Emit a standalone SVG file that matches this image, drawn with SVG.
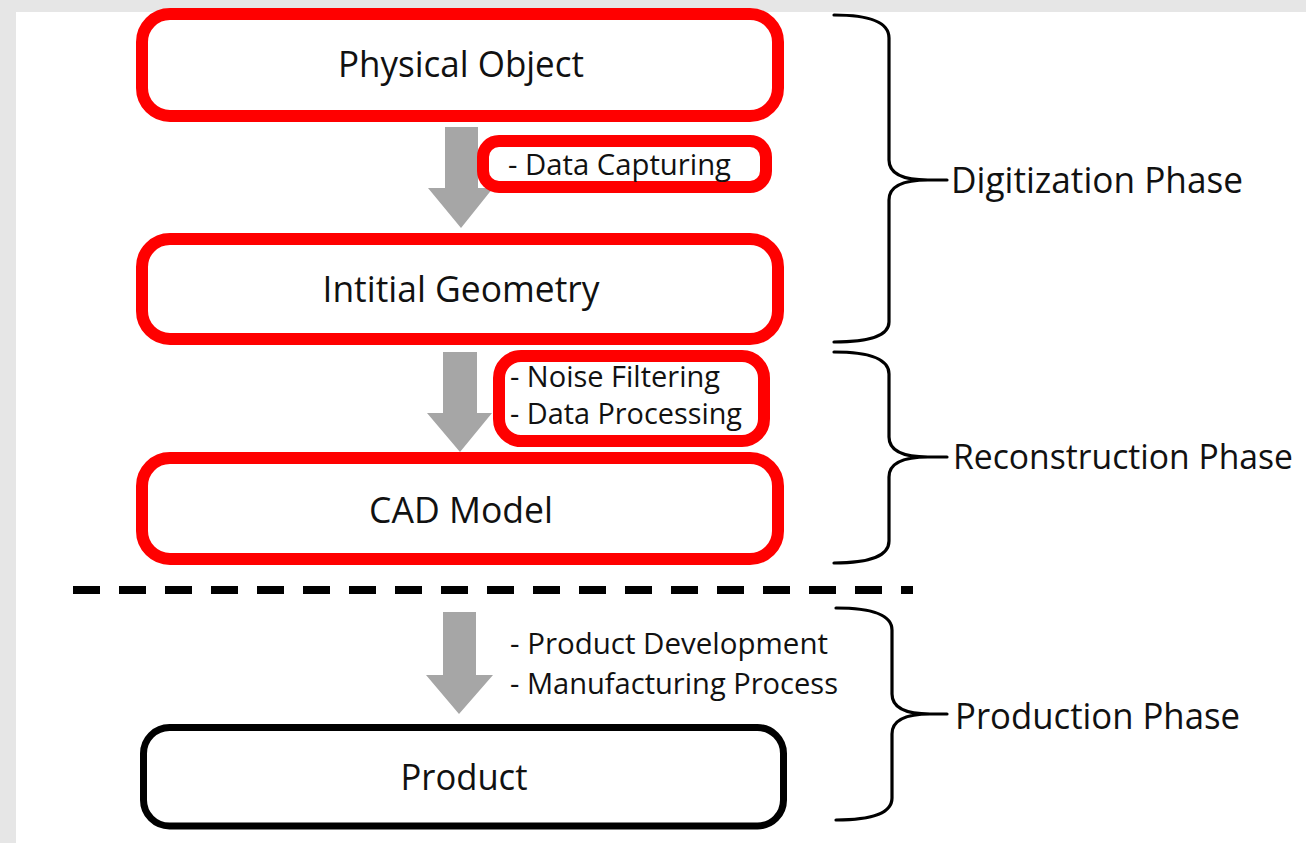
<svg xmlns="http://www.w3.org/2000/svg" width="1306" height="843" viewBox="0 0 1306 843">
<style>
  .bg { fill: #e6e6e6; }
  .red { fill: #ffffff; stroke: #ff0000; stroke-width: 12; }
  .blk { fill: #ffffff; stroke: #000000; stroke-width: 7; }
  .arrow { fill: #a6a6a6; stroke: none; }
  .brace { fill: none; stroke: #000000; stroke-width: 3.2; stroke-linecap: round; stroke-linejoin: round; }
  .dash { stroke: #000000; stroke-width: 8; stroke-dasharray: 27 19; fill: none; }
  text { font-family: "Open Sans", "Noto Sans", "Liberation Sans", sans-serif; fill: #111111; }
  .big { font-size: 36px; }
  .med { font-size: 37px; }
  .medn { font-size: 34px; }
  .small { font-size: 28.5px; }
  .c { text-anchor: middle; }
</style>
<rect class="bg" x="0" y="0" width="1306" height="843"/>
<rect x="16" y="12" width="1290" height="831" fill="#ffffff"/>

<g id="connectors">
  <polygon id="arrow1" class="arrow" points="445,127 478,127 478,188 493,188 461,228 428,188 445,188"/>
  <polygon id="arrow2" class="arrow" points="443,352 477,352 477,413 492,413 460,452 427,413 443,413"/>
  <polygon id="arrow3" class="arrow" points="443,612 476,612 476,675 493,675 459,714 426,675 443,675"/>
  <line id="divider" class="dash" x1="73" y1="590" x2="913" y2="590"/>
</g>

<g id="node-physical-object">
  <rect class="red" x="142" y="14" width="636" height="102" rx="28"/>
  <text class="big c" x="461" y="77" textLength="246" lengthAdjust="spacingAndGlyphs">Physical Object</text>
</g>
<g id="node-data-capturing">
  <rect class="red" x="483" y="141" width="283" height="46" rx="16"/>
  <text class="small" x="508" y="175" textLength="223" lengthAdjust="spacingAndGlyphs">- Data Capturing</text>
</g>
<g id="node-initial-geometry">
  <rect class="red" x="142" y="239" width="636" height="100" rx="28"/>
  <text class="big c" x="461" y="302" textLength="277" lengthAdjust="spacingAndGlyphs">Intitial Geometry</text>
</g>
<g id="node-processing">
  <rect class="red" x="499" y="356" width="265" height="85" rx="22"/>
  <text class="small" x="510" y="387" textLength="210" lengthAdjust="spacingAndGlyphs">- Noise Filtering</text>
  <text class="small" x="510" y="424" textLength="232" lengthAdjust="spacingAndGlyphs">- Data Processing</text>
</g>
<g id="node-cad-model">
  <rect class="red" x="142" y="458" width="636" height="101" rx="28"/>
  <text class="big c" x="461" y="523" textLength="184" lengthAdjust="spacingAndGlyphs">CAD Model</text>
</g>
<g id="node-production-steps">
  <text class="small" x="510" y="654" textLength="318" lengthAdjust="spacingAndGlyphs">- Product Development</text>
  <text class="small" x="510" y="694" textLength="328" lengthAdjust="spacingAndGlyphs">- Manufacturing Process</text>
</g>
<g id="node-product">
  <rect class="blk" x="143.5" y="727.5" width="640" height="98.5" rx="26"/>
  <text class="big c" x="464" y="790" textLength="127" lengthAdjust="spacingAndGlyphs">Product</text>
</g>

<g id="brace-digitization">
  <path class="brace" d="M834,15 Q889,15 889,38 L889,160 Q889,180 928,180 L947,180 M928,180 Q889,180 889,200 L889,322 Q889,342 834,342"/>
  <text class="med" x="951" y="193" textLength="292" lengthAdjust="spacingAndGlyphs">Digitization Phase</text>
</g>
<g id="brace-reconstruction">
  <path class="brace" d="M834,352 Q889,352 889,374 L889,437 Q889,457 928,457 L947,457 M928,457 Q889,457 889,477 L889,541 Q889,563 834,563"/>
  <text class="medn" x="953" y="469" textLength="340" lengthAdjust="spacingAndGlyphs">Reconstruction Phase</text>
</g>
<g id="brace-production">
  <path class="brace" d="M836,608 Q892,608 892,630 L892,694 Q892,714 930,714 L947,714 M930,714 Q892,714 892,734 L892,798 Q892,820 836,820"/>
  <text class="med" x="955" y="729" textLength="285" lengthAdjust="spacingAndGlyphs">Production Phase</text>
</g>
</svg>
